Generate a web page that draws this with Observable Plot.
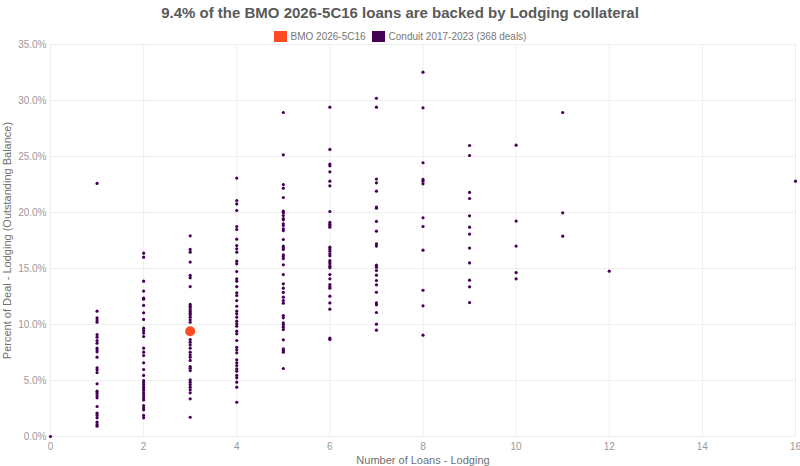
<!DOCTYPE html>
<html>
<head>
<meta charset="utf-8">
<script src="https://cdn.jsdelivr.net/npm/d3@7"></script>
<script src="https://cdn.jsdelivr.net/npm/@observablehq/plot@0.6"></script>
<style>
  body { margin: 0; background: #fff; font-family: "Liberation Sans", Arial, sans-serif; }
  #wrap { position: relative; width: 800px; height: 466px; overflow: hidden; }
  #title { position: absolute; top: 3px; left: 0; width: 800px; text-align: center; font-size: 15px; font-weight: bold; color: #5a5a5a; line-height: 20px; }
  #legend { position: absolute; top: 30px; left: 0; width: 800px; display: flex; justify-content: center; align-items: center; font-size: 10px; color: #777; line-height: 13px; z-index: 2; }
  .sw { display: inline-block; width: 13px; height: 11px; margin-right: 4px; }
  .item { display: inline-flex; align-items: center; margin: 0 3px; }
  #chart { position: absolute; top: 38px; left: 0; }
</style>
</head>
<body>
<div id="wrap">
  <div id="title"></div>
  <div id="legend"></div>
  <div id="chart"></div>
</div>
<script>
const titleText = "9.4% of the BMO 2026-5C16 loans are backed by Lodging collateral";
const seriesNames = ["BMO 2026-5C16", "Conduit 2017-2023 (368 deals)"];
const seriesColors = ["#ff4a24", "#440154"];
const xLabel = "Number of Loans - Lodging";
const yLabel = "Percent of Deal - Lodging (Outstanding Balance)";
const xTicks = [0, 2, 4, 6, 8, 10, 12, 14, 16];
const yTicks = [0, 5, 10, 15, 20, 25, 30, 35];

// BMO deal
const bmoLoans = 3;
const bmoPct = 9.4;

// Conduit deals: percent of deal in lodging, grouped by number of lodging loans
const loans0 = [0];
const loans1 = [22.6, 11.19, 10.6, 10.4, 10.2, 9.1, 8.87, 8.57, 8.33, 7.9, 7.74, 7.56, 7.08, 6.13, 5.95, 5.71, 4.7, 4.05, 3.87, 3.66, 3.45, 2.68, 2.08, 1.88, 1.67, 1.28, 1.07, 0.92];
const loans2 = [16.37, 16.01, 13.87, 12.98, 12.35, 12.26, 11.7, 11.04, 10.45, 9.67, 9.46, 9.23, 8.93, 7.89, 7.53, 7.23, 6.58, 5.98, 5.45, 5.0, 4.82, 4.64, 4.46, 4.29, 4.11, 3.87, 3.66, 3.45, 3.27, 2.77, 2.56, 2.38, 1.88, 1.67];
const loans3 = [17.92, 16.7, 16.46, 15.57, 14.38, 14.17, 13.39, 11.79, 11.63, 11.49, 11.31, 11.16, 11.01, 10.86, 10.65, 10.42, 10.2, 8.66, 8.42, 8.18, 7.89, 7.53, 7.29, 7.08, 6.79, 6.25, 6.1, 5.89, 5.06, 4.85, 4.64, 4.4, 4.17, 3.9, 3.36, 1.72];
const loans4 = [23.07, 21.07, 20.77, 20.18, 18.75, 18.48, 17.62, 17.05, 16.76, 16.46, 15.65, 15.42, 14.73, 14.08, 13.87, 13.39, 12.83, 12.59, 12.14, 11.63, 11.19, 10.95, 10.65, 10.3, 10.06, 9.85, 9.4, 9.17, 8.57, 7.97, 7.74, 7.47, 6.85, 6.58, 6.34, 6.04, 5.83, 5.45, 5.24, 4.85, 4.4, 3.06];
const loans5 = [28.93, 25.15, 22.5, 22.17, 21.34, 20.12, 19.97, 19.73, 19.46, 19.35, 18.99, 18.84, 18.54, 18.39, 17.59, 17.0, 16.85, 16.7, 16.22, 16.07, 15.89, 15.33, 14.46, 13.63, 13.24, 12.86, 12.44, 12.14, 11.9, 10.8, 10.6, 10.15, 9.97, 9.76, 9.55, 8.63, 7.83, 7.68, 7.53, 6.07];
const loans6 = [29.4, 25.63, 24.32, 24.17, 23.63, 22.8, 22.38, 20.09, 19.11, 18.96, 18.81, 18.69, 16.9, 16.73, 16.55, 16.31, 16.13, 15.71, 15.57, 15.42, 15.21, 15.06, 14.46, 14.08, 13.57, 13.39, 13.24, 12.53, 11.93, 11.37, 8.78, 8.66];
const loans7 = [30.2, 29.4, 22.98, 22.65, 21.9, 20.48, 20.38, 19.2, 18.33, 17.2, 17.0, 15.3, 15.12, 14.82, 14.4, 13.93, 13.54, 12.88, 11.93, 11.76, 11.07, 10.03, 9.49];
const loans8 = [32.53, 29.35, 24.44, 22.95, 22.8, 22.56, 19.53, 18.75, 16.64, 13.06, 11.67, 9.05];
const loans9 = [25.98, 25.09, 21.79, 21.25, 19.7, 18.69, 18.07, 16.82, 15.5, 13.96, 13.36, 11.96];
const loans10 = [26.01, 19.23, 17.0, 14.64, 14.08];
const loans11 = [28.93, 19.97, 17.89];
const loans12 = [14.76];
const loans16 = [22.8];

const groups = [[0, loans0], [1, loans1], [2, loans2], [3, loans3], [4, loans4], [5, loans5], [6, loans6], [7, loans7], [8, loans8], [9, loans9], [10, loans10], [11, loans11], [12, loans12], [16, loans16]];
const conduit = groups.flatMap(([n, arr]) => arr.map(p => ({loans: n, pct: p})));
const bmo = [{loans: bmoLoans, pct: bmoPct}];

document.getElementById("title").textContent = titleText;
const lg = document.getElementById("legend");
seriesNames.forEach((name, i) => {
  const it = document.createElement("span");
  it.className = "item";
  it.innerHTML = `<span class="sw" style="background:${seriesColors[i]}"></span>`;
  it.appendChild(document.createTextNode(name));
  lg.appendChild(it);
});

const chart = Plot.plot({
  width: 800,
  height: 428,
  marginTop: 6,
  marginBottom: 30,
  marginLeft: 50,
  marginRight: 5,
  style: {fontFamily: "Liberation Sans, Arial, sans-serif", fontSize: "10px", color: "#999", background: "#fff"},
  x: {domain: [0, 16]},
  y: {domain: [0, 35]},
  marks: [
    Plot.gridY(yTicks, {stroke: "#eeeeee", strokeOpacity: 1}),
    Plot.gridX(xTicks, {stroke: "#eeeeee", strokeOpacity: 1}),
    Plot.axisX({ticks: xTicks, tickSize: 0, tickPadding: 6, label: null, fill: "#999", textAnchor: "middle"}),
    Plot.axisX({ticks: [], tickSize: 0, label: xLabel, labelAnchor: "center", labelArrow: "none", labelOffset: 27, fill: "#707070", fontSize: 11}),
    Plot.axisY({ticks: yTicks, tickSize: 0, tickPadding: 4, tickFormat: d => d.toFixed(1) + "%", label: null, fill: "#999"}),
    Plot.axisY({ticks: [], tickSize: 0, label: yLabel, labelAnchor: "center", labelArrow: "none", labelOffset: 47, fill: "#707070", fontSize: 11}),
    Plot.dot(conduit, {x: "loans", y: "pct", r: 1.6, fill: seriesColors[1], stroke: null}),
    Plot.dot(bmo, {x: "loans", y: "pct", r: 5, fill: seriesColors[0], stroke: null})
  ]
});
document.getElementById("chart").appendChild(chart);
</script>
</body>
</html>
